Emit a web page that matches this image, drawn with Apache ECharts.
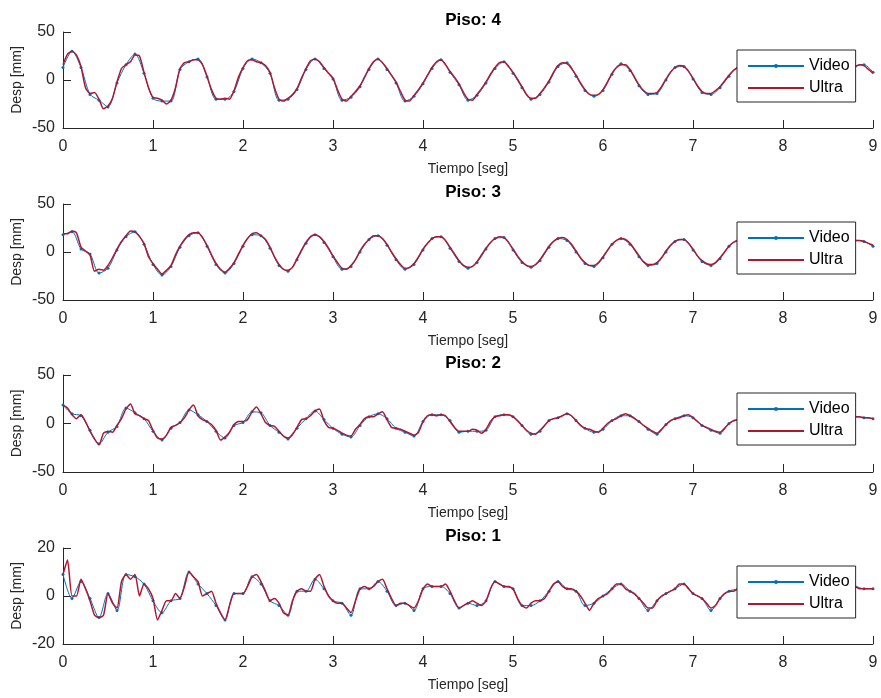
<!DOCTYPE html>
<html>
<head>
<meta charset="utf-8">
<script src="https://cdn.jsdelivr.net/npm/echarts@6/dist/echarts.min.js"></script>
<style>html,body{margin:0;padding:0;background:#fff}#c{width:881px;height:698px}</style>
</head>
<body>
<div id="c"></div>
<script>
// ---- data (time step of each series in seconds) ----
const ULTRA_DT = 0.05;
const VIDEO_DT = 0.1;
const xTicks = [0,1,2,3,4,5,6,7,8,9];
const titles = ['Piso: 4','Piso: 3','Piso: 2','Piso: 1'];
const yRanges = [[-50,50,50],[-50,50,50],[-50,50,50],[-20,20,20]];

const piso4Ultra = [
16,27,30,26,14,-8,-14,-13,-20,-30,-27,-19,-2,12,16,19,26,25,8,-8,
-18,-19,-21,-25,-21,-8,12,18,19,21,21,16,4,-10,-19,-20,-19,-20,-11,3,
13,20,21,19,18,15,8,-8,-20,-22,-19,-15,-9,2,12,20,22,19,13,7,
2,-10,-20,-22,-17,-12,-6,3,12,19,22,18,12,5,-2,-12,-21,-22,-16,-10,
-3,5,13,19,21,16,9,3,-4,-13,-20,-21,-15,-9,-2,6,13,18,19,14,
8,1,-7,-15,-19,-19,-14,-8,-1,8,15,18,17,12,5,-3,-10,-15,-16,-15,
-10,-2,7,13,16,16,11,3,-5,-11,-14,-14,-13,-7,1,8,13,15,14,9,
2,-6,-12,-14,-14,-11,-7,-1,5,10,13,14,12,7,0,-7,-12,-13,-12,-8,
-2,5,11,14,14,10,4,-3,-9,-12,-13,-11,-6,0,6,11,14,16,15,11,
7];
const piso4Video = [
13,30,13,-15,-21,-28,-3,16,27,7,
-19,-22,-22,11,19,22,3,-20,-20,-12,
12,22,18,7,-21,-20,-10,11,22,12,
1,-21,-18,-7,11,22,11,-3,-22,-17,
-4,12,21,8,-5,-21,-16,-3,12,19,
7,-8,-20,-15,-2,14,18,4,-11,-17,
-11,6,17,10,-6,-15,-14,0,13,14,
1,-13,-15,-8,4,13,11,-1,-13,-13,
-3,10,15,3,-10,-14,-7,5,14,16,
8];

const piso3Ultra = [
19,19,22,20,5,1,-3,-20,-18,-19,-14,-6,3,11,17,22,21,16,9,-5,
-12,-18,-23,-19,-14,-3,6,13,18,20,20,15,7,-3,-12,-18,-21,-17,-11,-2,
7,14,19,20,17,13,5,-5,-13,-18,-19,-16,-7,2,10,16,18,16,11,4,
-4,-11,-17,-18,-14,-8,1,8,13,17,17,14,8,0,-7,-13,-17,-16,-12,-5,
3,9,14,16,16,12,5,-2,-9,-14,-16,-15,-10,-3,4,10,14,16,15,10,
3,-4,-10,-14,-15,-13,-8,-1,6,11,14,15,13,8,1,-6,-11,-14,-14,-11,
-5,2,8,12,14,13,9,3,-4,-10,-13,-13,-11,-6,1,7,11,13,13,9,
3,-4,-9,-12,-13,-11,-6,0,6,10,12,12,9,3,-3,-8,-11,-12,-10,-5,
1,6,10,12,11,8,2,-4,-9,-11,-11,-9,-4,2,7,10,12,12,11,9,
7];
const piso3Video = [
18,21,3,-2,-22,-17,2,16,21,8,
-13,-24,-15,5,17,20,6,-13,-22,-12,
6,18,17,4,-14,-20,-8,9,18,10,
-5,-18,-15,0,13,17,7,-8,-18,-13,
2,14,16,4,-10,-17,-11,3,14,15,
2,-11,-16,-9,5,14,12,0,-12,-15,
-6,8,14,8,-5,-14,-12,0,11,13,
2,-10,-14,-7,6,12,8,-4,-12,-11,
0,10,11,1,-10,-12,-5,7,12,11,
6];

const piso2Ultra = [
19,16,9,5,9,2,-8,-16,-22,-10,-8,-9,-2,5,15,20,10,8,5,3,
-7,-15,-16,-12,-4,-2,1,6,14,19,8,4,2,-1,-7,-17,-14,-9,-1,2,
2,4,12,17,10,1,-2,-3,-8,-13,-15,-11,-4,4,5,8,13,15,3,-4,
-5,-7,-10,-12,-13,-6,-1,5,7,7,10,12,4,-4,-5,-6,-8,-10,-12,-9,
2,8,9,8,9,8,2,-4,-8,-8,-8,-6,-7,-10,-6,2,7,8,9,9,
7,3,-2,-7,-10,-11,-7,-2,3,5,6,8,10,8,3,-2,-5,-6,-8,-9,
-5,0,3,5,8,10,8,5,2,-2,-5,-8,-10,-6,-1,3,5,6,8,9,
6,2,-2,-4,-6,-8,-9,-5,0,3,4,6,8,6,3,-1,-4,-6,-8,-7,
-3,1,4,6,7,6,3,-1,-4,-6,-7,-6,-3,1,4,6,7,7,6,6,
5];
const piso2Video = [
19,10,8,-7,-21,-9,-3,16,11,5,
-8,-17,-5,1,14,9,2,-8,-15,-2,
1,12,11,-2,-9,-16,-5,5,13,4,
-5,-11,-14,-2,7,10,5,-5,-9,-13,
2,9,9,3,-9,-8,-8,-7,7,9,
7,-2,-11,-8,3,6,10,3,-5,-9,
-6,3,8,8,2,-6,-11,-1,5,8,
6,-2,-7,-10,0,4,8,3,-4,-8,
-3,4,7,3,-4,-7,-3,4,7,6,
5];

const piso1Ultra = [
9,15,0,0,7,3,-2,-8,-9,-8,1,-3,-5,6,9,7,9,0,5,3,
-1,-10,-6,-2,-2,1,-1,4,10,8,6,0,1,2,-3,-7,-10,-4,1,1,
1,4,8,9,6,2,-2,-1,-3,-7,-8,-2,2,3,2,2,7,9,4,0,
-2,-3,-3,-5,-7,-2,3,4,3,4,6,7,3,-1,-4,-3,-3,-4,-5,-2,
3,5,4,4,4,5,2,-2,-5,-4,-3,-2,-3,-4,-2,3,6,5,4,4,
3,-1,-4,-5,-3,-2,-2,-1,2,5,6,4,3,3,2,0,-3,-6,-3,-1,
0,1,3,5,5,3,2,1,-1,-3,-5,-5,-2,0,1,2,3,5,5,3,
1,0,-1,-3,-5,-4,-1,1,2,2,3,4,4,3,1,-1,-3,-4,-3,-2,
0,1,3,4,4,3,1,-1,-2,-3,-3,-2,0,1,2,3,4,3,3,3,
3];
const piso1Video = [
9,-1,6,-1,-9,1,-6,9,8,5,
-2,-7,-2,-1,10,5,1,-4,-10,1,
1,8,5,-2,-4,-8,2,2,7,3,
-2,-3,-8,3,3,6,2,-4,-3,-6,
3,4,4,1,-5,-3,-4,-2,6,4,
3,-4,-4,-2,2,6,3,2,-4,-3,
0,3,5,2,-1,-6,-2,1,3,5,
1,-1,-6,-1,2,3,4,1,-3,-3,
0,3,4,1,-2,-3,0,2,4,3,
3];

const ultraSets = [piso4Ultra, piso3Ultra, piso2Ultra, piso1Ultra];
const videoSets = [piso4Video, piso3Video, piso2Video, piso1Video];

// ---- layout / style ----
const FONT = 'Liberation Sans, Arial, Helvetica, sans-serif';
const INK = '#262626';
const BLUE = '#0072BD';
const RED = '#B0172F';
const gridTops = [32, 204, 375, 548];
const gridH = [96, 96, 97, 96];

function toPairs(arr, dt) {
  return arr.map((v, i) => [+(i * dt).toFixed(3), v]);
}

const option = {
  animation: false,
  backgroundColor: '#fff',
  title: [], grid: [], xAxis: [], yAxis: [], legend: [], series: []
};

for (let i = 0; i < 4; i++) {
  option.title.push({
    text: titles[i], left: 468, top: gridTops[i] - 25, textAlign: 'center',
    textStyle: { fontFamily: FONT, fontSize: 17, fontWeight: 'bold', color: '#000' }
  });
  option.grid.push({ left: 63, width: 810, top: gridTops[i], height: gridH[i], containLabel: false });
  option.xAxis.push({
    type: 'value', gridIndex: i, min: xTicks[0], max: xTicks[xTicks.length - 1], interval: 1,
    name: 'Tiempo [seg]', nameLocation: 'middle', nameGap: 34, nameMoveOverlap: false,
    nameTextStyle: { fontFamily: FONT, fontSize: 14, color: INK },
    axisLine: { show: true, onZero: false, lineStyle: { color: INK, width: 1 } },
    axisTick: { show: true, inside: true, length: 8, lineStyle: { color: INK } },
    axisLabel: { fontFamily: FONT, fontSize: 16, color: INK, margin: 11 },
    splitLine: { show: false }
  });
  option.yAxis.push({
    type: 'value', gridIndex: i, min: yRanges[i][0], max: yRanges[i][1], interval: yRanges[i][2],
    name: 'Desp [mm]', nameLocation: 'middle', nameGap: 39, nameRotate: 90, nameMoveOverlap: false,
    nameTextStyle: { fontFamily: FONT, fontSize: 14, color: INK },
    axisLine: { show: true, onZero: false, lineStyle: { color: INK, width: 1 } },
    axisTick: { show: true, inside: true, length: 8, lineStyle: { color: INK } },
    axisLabel: { fontFamily: FONT, fontSize: 16, color: INK, margin: 8 },
    splitLine: { show: false }
  });
  option.legend.push({
    data: [{ name: 'Video' }, { name: 'Ultra', itemStyle: { opacity: 0 } }],
    orient: 'vertical', left: 737, top: gridTops[i] + 18,
    backgroundColor: '#fff', borderColor: INK, borderWidth: 1, borderRadius: 0,
    padding: [8, 6, 6, 10], itemWidth: 56, itemHeight: 5, itemGap: 6,
    textStyle: { fontFamily: FONT, fontSize: 16, color: '#000' }, z: 10
  });
  option.series.push({
    name: 'Video', type: 'line', xAxisIndex: i, yAxisIndex: i,
    data: toPairs(videoSets[i], VIDEO_DT), smooth: 0.3,
    symbol: 'circle', symbolSize: 3, showSymbol: true, showAllSymbol: true,
    itemStyle: { color: BLUE }, lineStyle: { color: BLUE, width: 1 }, z: 2
  });
  option.series.push({
    name: 'Ultra', type: 'line', xAxisIndex: i, yAxisIndex: i,
    data: toPairs(ultraSets[i], ULTRA_DT),
    symbol: 'none', smooth: 0.2,
    itemStyle: { color: RED }, lineStyle: { color: RED, width: 1.5 }, z: 3
  });
}

const chart = echarts.init(document.getElementById('c'), null, { renderer: 'canvas' });
chart.setOption(option);
</script>
</body>
</html>
